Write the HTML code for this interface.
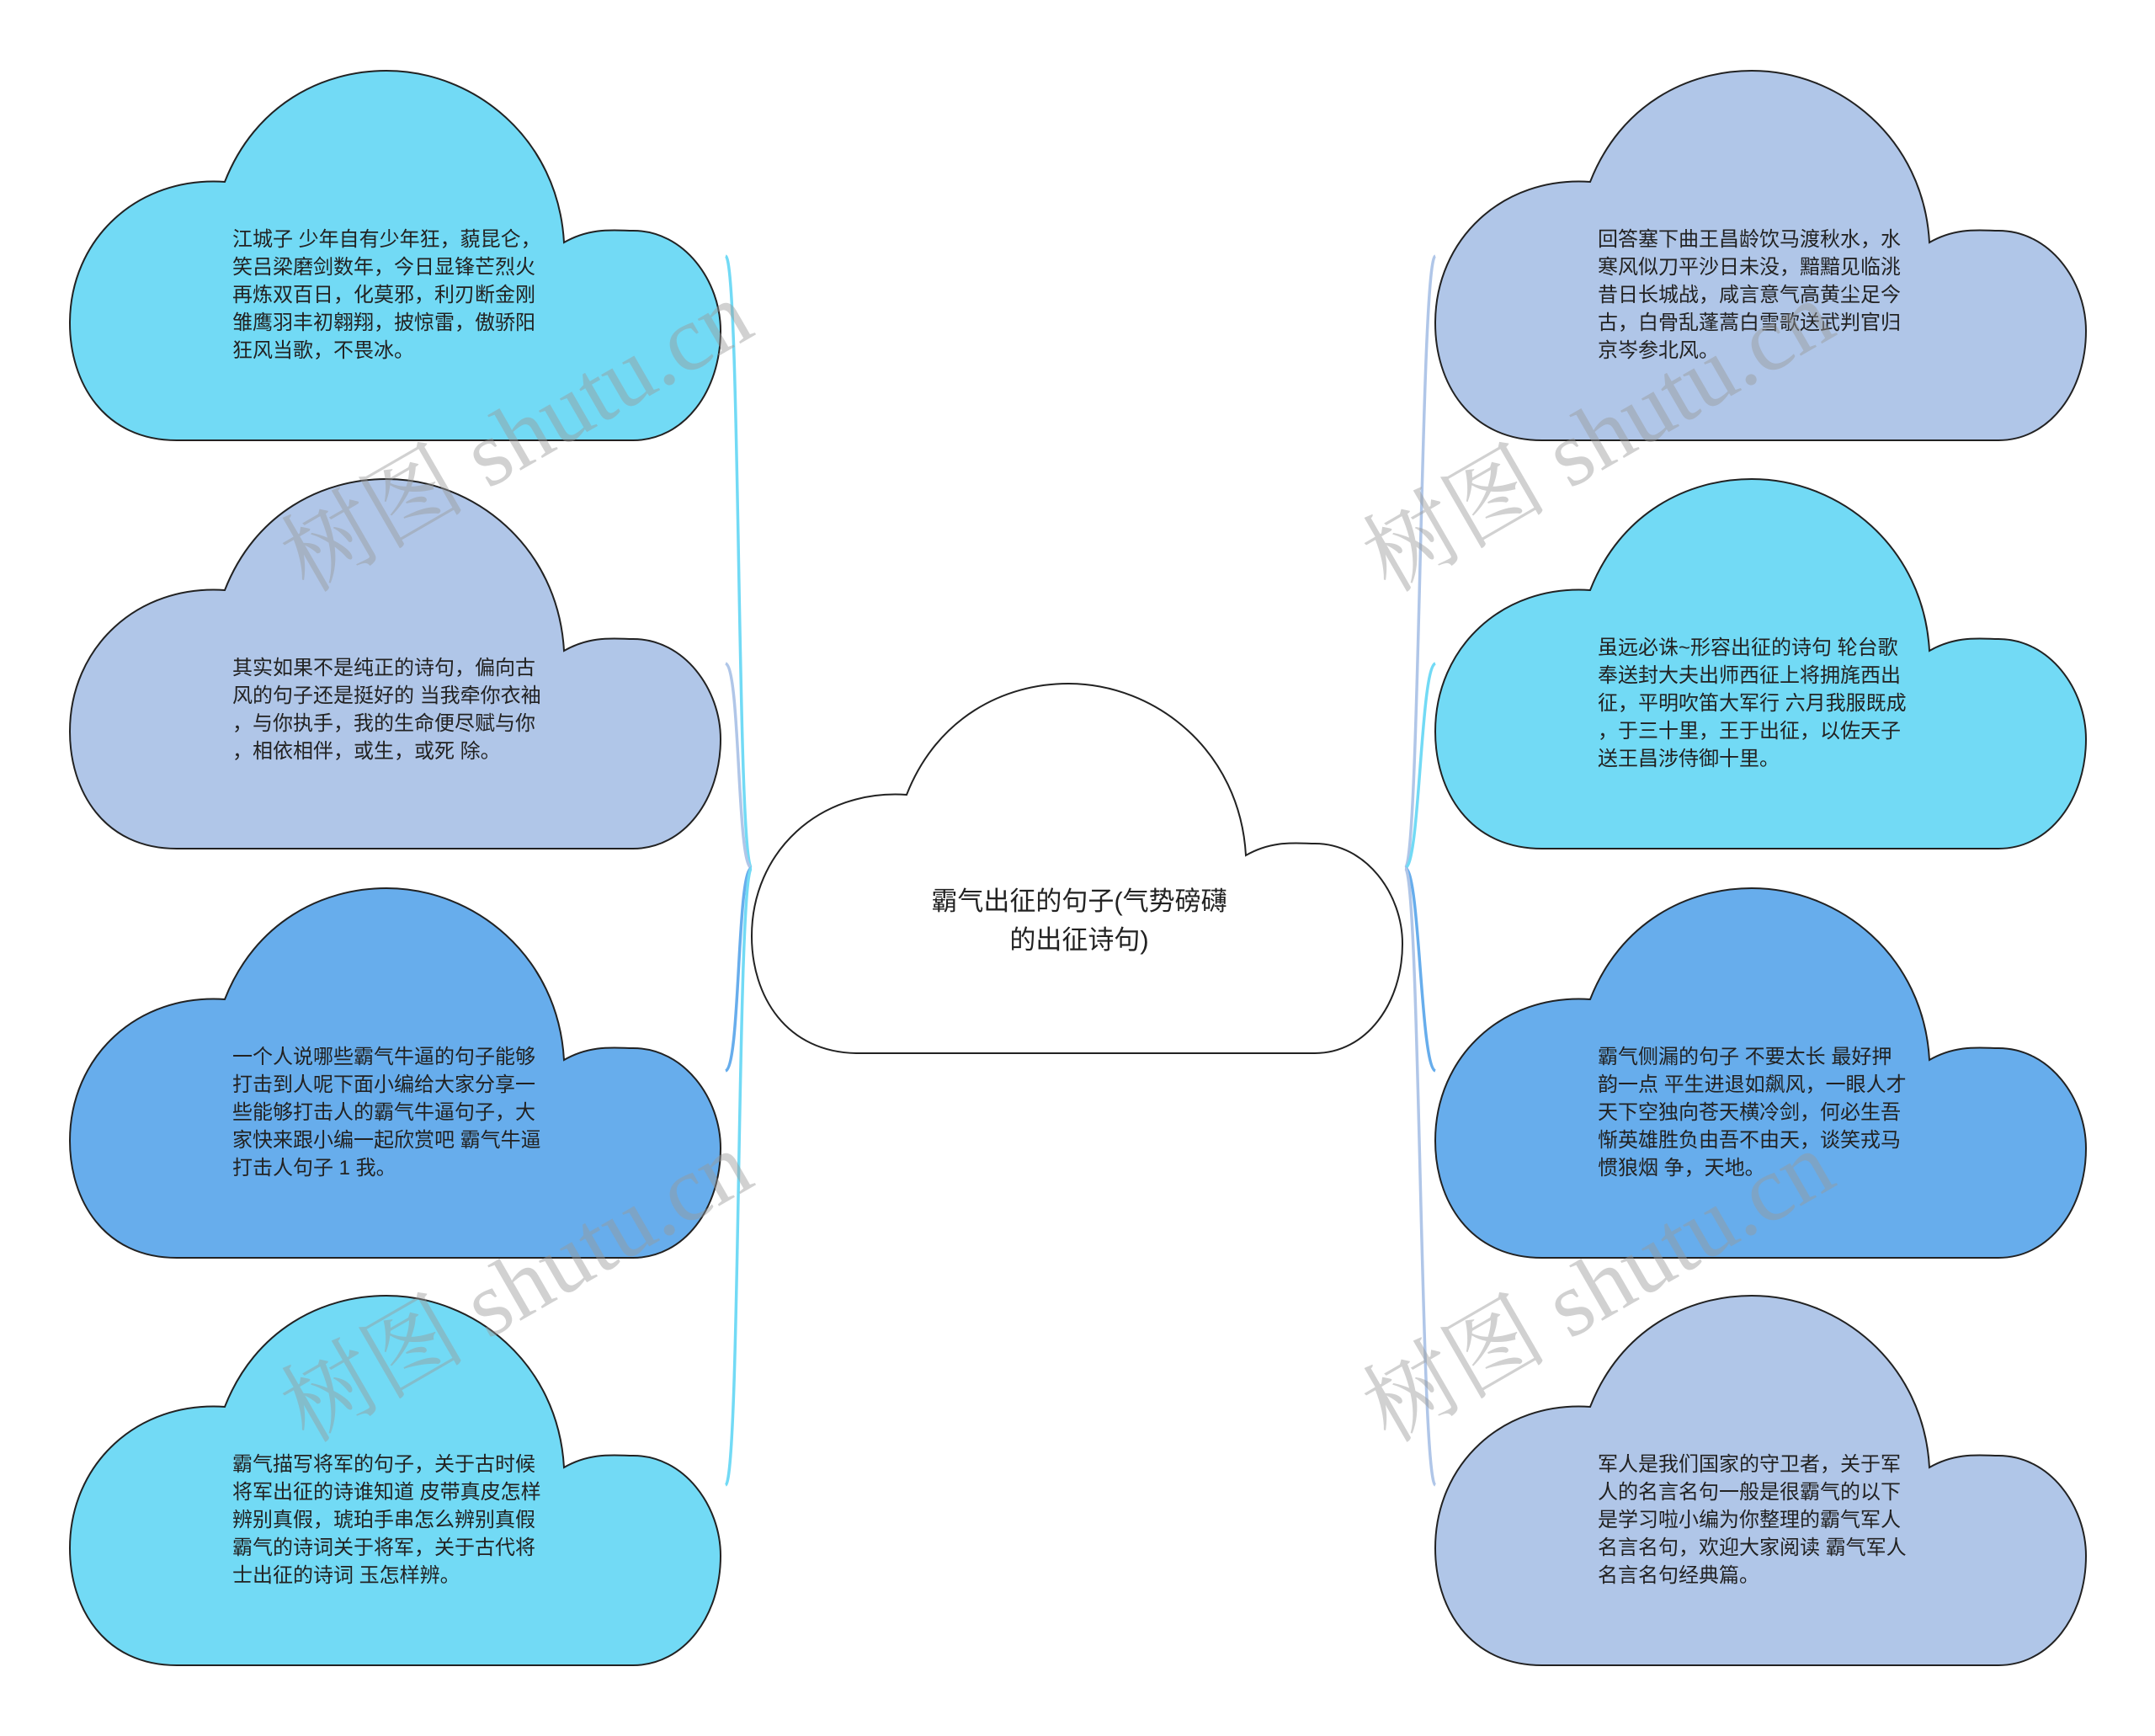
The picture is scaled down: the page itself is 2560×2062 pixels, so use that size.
<!DOCTYPE html>
<html><head><meta charset="utf-8"><style>
html,body{margin:0;padding:0;background:#fff;}
body{width:2560px;height:2057px;overflow:hidden;}
svg text{font-family:"Liberation Sans","Noto Sans CJK SC",sans-serif;}
</style></head><body>
<svg width="2560" height="2057" viewBox="0 0 2560 2057" xmlns="http://www.w3.org/2000/svg">
<defs>
<path id="c" d="M127,439 C40,439 0,370 0,300 C0,200 80,125 184,132 C220,40 300,0 376,0 C480,0 580,80 587,204 C620,185 650,190 669,190 C730,190 773,250 773,309 C773,380 730,439 669,439 Z" stroke="#222" stroke-width="2"/>
</defs>
<g fill="none" stroke-width="3.5">
<path d="M893,1031 C875,1031 880,310 862,304" stroke="#72DAF5"/>
<path d="M893,1031 C875,1031 880,795 862,788" stroke="#B0C6E8"/>
<path d="M893,1031 C875,1031 880,1265 862,1272" stroke="#67ADEC"/>
<path d="M893,1031 C875,1031 880,1755 862,1764" stroke="#72DAF5"/>
<path d="M1669,1031 C1687,1031 1687,310 1705,304" stroke="#B0C6E8"/>
<path d="M1669,1031 C1687,1031 1687,795 1705,788" stroke="#72DAF5"/>
<path d="M1669,1031 C1687,1031 1687,1265 1705,1272" stroke="#67ADEC"/>
<path d="M1669,1031 C1687,1031 1687,1755 1705,1764" stroke="#B0C6E8"/>
</g>
<use href="#c" x="83" y="84" fill="#72DAF5"/>
<use href="#c" x="83" y="569" fill="#B0C6E8"/>
<use href="#c" x="83" y="1055" fill="#67ADEC"/>
<use href="#c" x="83" y="1539" fill="#72DAF5"/>
<use href="#c" x="1705" y="84" fill="#B0C6E8"/>
<use href="#c" x="1705" y="569" fill="#72DAF5"/>
<use href="#c" x="1705" y="1055" fill="#67ADEC"/>
<use href="#c" x="1705" y="1539" fill="#B0C6E8"/>
<use href="#c" x="893" y="812" fill="#fff"/>
<g font-size="24" fill="#222">
<text x="276" y="292"><tspan x="276">江城子 少年自有少年狂，藐昆仑，</tspan><tspan x="276" dy="33">笑吕梁磨剑数年，今日显锋芒烈火</tspan><tspan x="276" dy="33">再炼双百日，化莫邪，利刃断金刚</tspan><tspan x="276" dy="33">雏鹰羽丰初翱翔，披惊雷，傲骄阳</tspan><tspan x="276" dy="33">狂风当歌，不畏冰。</tspan></text>
<text x="276" y="801"><tspan x="276">其实如果不是纯正的诗句，偏向古</tspan><tspan x="276" dy="33">风的句子还是挺好的 当我牵你衣袖</tspan><tspan x="276" dy="33">，与你执手，我的生命便尽赋与你</tspan><tspan x="276" dy="33">，相依相伴，或生，或死 除。</tspan></text>
<text x="276" y="1263"><tspan x="276">一个人说哪些霸气牛逼的句子能够</tspan><tspan x="276" dy="33">打击到人呢下面小编给大家分享一</tspan><tspan x="276" dy="33">些能够打击人的霸气牛逼句子，大</tspan><tspan x="276" dy="33">家快来跟小编一起欣赏吧 霸气牛逼</tspan><tspan x="276" dy="33">打击人句子 1 我。</tspan></text>
<text x="276" y="1747"><tspan x="276">霸气描写将军的句子，关于古时候</tspan><tspan x="276" dy="33">将军出征的诗谁知道 皮带真皮怎样</tspan><tspan x="276" dy="33">辨别真假，琥珀手串怎么辨别真假</tspan><tspan x="276" dy="33">霸气的诗词关于将军，关于古代将</tspan><tspan x="276" dy="33">士出征的诗词 玉怎样辨。</tspan></text>
<text x="1898" y="292"><tspan x="1898">回答塞下曲王昌龄饮马渡秋水，水</tspan><tspan x="1898" dy="33">寒风似刀平沙日未没，黯黯见临洮</tspan><tspan x="1898" dy="33">昔日长城战，咸言意气高黄尘足今</tspan><tspan x="1898" dy="33">古，白骨乱蓬蒿白雪歌送武判官归</tspan><tspan x="1898" dy="33">京岑参北风。</tspan></text>
<text x="1898" y="777"><tspan x="1898">虽远必诛~形容出征的诗句 轮台歌</tspan><tspan x="1898" dy="33">奉送封大夫出师西征上将拥旄西出</tspan><tspan x="1898" dy="33">征，平明吹笛大军行 六月我服既成</tspan><tspan x="1898" dy="33">，于三十里，王于出征，以佐天子</tspan><tspan x="1898" dy="33">送王昌涉侍御十里。</tspan></text>
<text x="1898" y="1263"><tspan x="1898">霸气侧漏的句子 不要太长 最好押</tspan><tspan x="1898" dy="33">韵一点 平生进退如飙风，一眼人才</tspan><tspan x="1898" dy="33">天下空独向苍天横冷剑，何必生吾</tspan><tspan x="1898" dy="33">惭英雄胜负由吾不由天，谈笑戎马</tspan><tspan x="1898" dy="33">惯狼烟 争，天地。</tspan></text>
<text x="1898" y="1747"><tspan x="1898">军人是我们国家的守卫者，关于军</tspan><tspan x="1898" dy="33">人的名言名句一般是很霸气的以下</tspan><tspan x="1898" dy="33">是学习啦小编为你整理的霸气军人</tspan><tspan x="1898" dy="33">名言名句，欢迎大家阅读 霸气军人</tspan><tspan x="1898" dy="33">名言名句经典篇。</tspan></text>
</g>
<g font-size="31" fill="#222" text-anchor="middle">
<text x="1282" y="1081">霸气出征的句子(气势磅礴</text>
<text x="1282" y="1127">的出征诗句)</text>
</g>
<g font-size="110" fill="#999" fill-opacity="0.45">
<text style="font-family:'Liberation Serif','DejaVu Serif','Noto Serif CJK SC',serif" transform="translate(365,705) rotate(-30)">树图 shutu.cn</text>
<text style="font-family:'Liberation Serif','DejaVu Serif','Noto Serif CJK SC',serif" transform="translate(365,1715) rotate(-30)">树图 shutu.cn</text>
<text style="font-family:'Liberation Serif','DejaVu Serif','Noto Serif CJK SC',serif" transform="translate(1650,705) rotate(-30)">树图 shutu.cn</text>
<text style="font-family:'Liberation Serif','DejaVu Serif','Noto Serif CJK SC',serif" transform="translate(1650,1715) rotate(-30)">树图 shutu.cn</text>
</g>
</svg>
</body></html>
